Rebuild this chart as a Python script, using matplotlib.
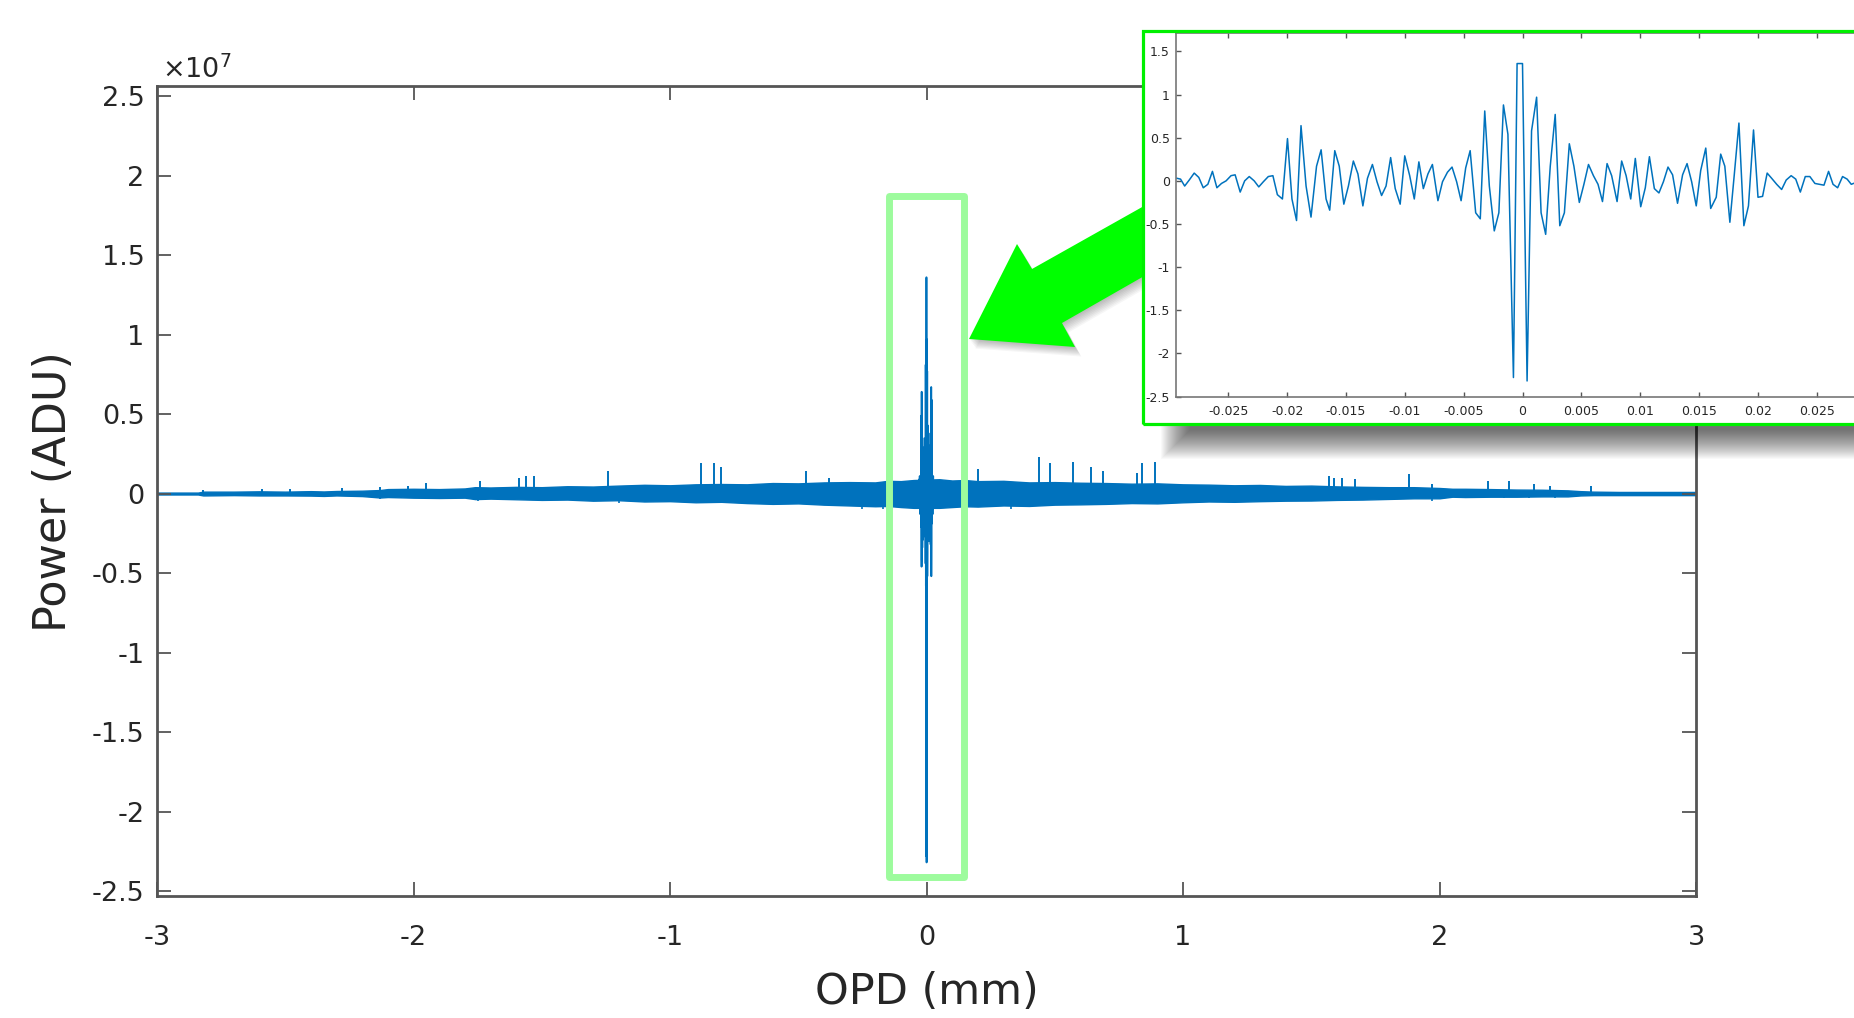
import numpy as np
import matplotlib.pyplot as plt
from matplotlib.patches import Polygon, Rectangle

plt.rcParams['font.family'] = ['DejaVu Sans']
plt.rcParams['axes.unicode_minus'] = False

W, H = 1854, 1018
BLUE = '#0072BD'
TXT = '#262626'
AX = '#555555'

# envelope of the dense interferogram trace, units of 1e7 ADU
env_x = [-3.0, -2.84, -2.82, -2.7, -2.6, -2.5, -2.4, -2.35, -2.3, -2.2, -2.13, -2.1,
         -2.0, -1.9, -1.8, -1.76, -1.7, -1.6, -1.5, -1.4, -1.3, -1.2, -1.1, -1.0,
         -0.9, -0.8, -0.7, -0.6, -0.5, -0.4, -0.3, -0.2, -0.15, -0.1, -0.05, 0.05,
         0.1, 0.15, 0.2, 0.3, 0.4, 0.5, 0.6, 0.7, 0.8, 0.9, 1.0, 1.1,
         1.2, 1.3, 1.4, 1.5, 1.6, 1.7, 1.8, 1.9, 2.0, 2.05, 2.1, 2.2,
         2.3, 2.4, 2.5, 2.55, 2.6, 2.7, 2.8, 3.0]
env_hi = [0.006, 0.006, 0.012, 0.012, 0.014, 0.012, 0.015, 0.013, 0.016, 0.018, 0.022, 0.028,
          0.030, 0.028, 0.032, 0.040, 0.038, 0.042, 0.040, 0.046, 0.044, 0.050, 0.055, 0.052,
          0.058, 0.060, 0.058, 0.066, 0.064, 0.070, 0.072, 0.070, 0.080, 0.078, 0.085, 0.090,
          0.082, 0.085, 0.078, 0.080, 0.070, 0.072, 0.068, 0.066, 0.062, 0.064, 0.058, 0.056,
          0.052, 0.054, 0.048, 0.050, 0.045, 0.042, 0.040, 0.040, 0.035, 0.030, 0.030, 0.028,
          0.025, 0.024, 0.020, 0.015, 0.012, 0.010, 0.010, 0.010]
env_lo = [-0.006, -0.006, -0.012, -0.010, -0.012, -0.012, -0.013, -0.015, -0.012, -0.016, -0.025, -0.022,
          -0.026, -0.028, -0.026, -0.035, -0.032, -0.036, -0.040, -0.038, -0.045, -0.042, -0.050, -0.048,
          -0.055, -0.052, -0.060, -0.065, -0.062, -0.070, -0.075, -0.080, -0.078, -0.085, -0.090, -0.090,
          -0.085, -0.080, -0.082, -0.075, -0.078, -0.070, -0.068, -0.065, -0.060, -0.062, -0.055, -0.050,
          -0.052, -0.048, -0.045, -0.044, -0.040, -0.038, -0.034, -0.030, -0.030, -0.020, -0.022, -0.020,
          -0.020, -0.018, -0.018, -0.012, -0.010, -0.010, -0.010, -0.010]

# isolated spikes sticking out of the trace
spike_x = [-2.82, -2.59, -2.48, -2.28, -2.13, -2.02, -1.95, -1.74, -1.59, -1.56, -1.53, -1.24,
           -0.88, -0.83, -0.80, -0.47, -0.38, 0.20, 0.44, 0.48, 0.57, 0.64, 0.69, 0.82, 0.84,
           0.89, 1.57, 1.59, 1.62, 1.67, 1.88, 1.97, 2.19, 2.27, 2.37, 2.43, 2.59]
spike_top = [0.02, 0.03, 0.03, 0.035, 0.04, 0.05, 0.065, 0.08, 0.10, 0.11, 0.11, 0.14,
             0.19, 0.19, 0.17, 0.14, 0.10, 0.155, 0.23, 0.19, 0.20, 0.17, 0.14, 0.13, 0.19,
             0.20, 0.11, 0.10, 0.10, 0.09, 0.12, 0.06, 0.08, 0.08, 0.06, 0.05, 0.05]

# short dips below the trace
dip_x = [-2.13, -2.05, -1.75, -1.2, -0.25, -0.17, 0.33, 1.97, 2.08, 2.15, 2.25, 2.35, 2.45]
dip_bot = [-0.035, -0.03, -0.045, -0.06, -0.10, -0.10, -0.10, -0.05, -0.03, -0.03, -0.03, -0.025, -0.025]

# burst around zero path difference (OPD in micrometres, power in 1e7 ADU)
zpd_x_um = [-29.38, -29.07, -28.72, -28.33, -27.91, -27.52, -27.14, -26.75, -26.36, -25.98,
            -25.59, -25.20, -24.78, -24.43, -24.00, -23.62, -23.23, -22.81, -22.42, -22.03,
            -21.61, -21.22, -20.84, -20.41, -19.98, -19.60, -19.21, -18.83, -18.40, -17.98,
            -17.51, -17.12, -16.70, -16.39, -15.96, -15.58, -15.19, -14.80, -14.38, -13.99,
            -13.57, -13.18, -12.76, -12.37, -11.98, -11.60, -11.21, -10.82, -10.40, -10.01,
            -9.59, -9.20, -8.81, -8.43, -8.04, -7.66, -7.19, -6.80, -6.38, -5.99,
            -5.60, -5.22, -4.83, -4.45, -3.98, -3.59, -3.21, -2.82, -2.40, -2.01,
            -1.62, -1.24, -0.77, -0.46, 0.00, 0.39, 0.77, 1.20, 1.58, 1.97,
            2.36, 2.78, 3.17, 3.56, 3.98, 4.37, 4.83, 5.22, 5.61, 6.03,
            6.42, 6.80, 7.19, 7.58, 8.04, 8.43, 8.81, 9.20, 9.59, 10.05,
            10.44, 10.79, 11.21, 11.60, 11.98, 12.37, 12.76, 13.18, 13.61, 13.99,
            14.38, 14.77, 15.15, 15.58, 16.00, 16.47, 16.85, 17.20, 17.63, 18.01,
            18.40, 18.82, 19.21, 19.64, 20.02, 20.41, 20.80, 21.18, 21.61, 22.03,
            22.42, 22.84, 23.23, 23.62, 24.04, 24.43, 24.86, 25.24, 25.63, 26.02,
            26.40, 26.79, 27.21, 27.60, 27.95, 28.33, 28.72, 29.10]
zpd_val = [0.03, 0.02, -0.06, 0.01, 0.09, 0.04, -0.08, -0.04, 0.11, -0.08,
           -0.03, 0.00, 0.06, 0.07, -0.13, 0.00, 0.05, 0.00, -0.07, -0.01,
           0.05, 0.06, -0.16, -0.21, 0.49, -0.21, -0.46, 0.64, -0.06, -0.42,
           0.17, 0.36, -0.21, -0.34, 0.35, 0.17, -0.27, -0.06, 0.23, 0.08,
           -0.29, 0.03, 0.19, -0.01, -0.17, -0.06, 0.27, -0.09, -0.27, 0.29,
           0.06, -0.21, 0.22, -0.09, 0.08, 0.19, -0.23, -0.01, 0.10, 0.16,
           -0.01, -0.23, 0.15, 0.35, -0.37, -0.44, 0.81, -0.06, -0.58, -0.37,
           0.88, 0.54, -2.28, 1.36, 1.36, -2.32, 0.58, 0.97, -0.37, -0.62,
           0.17, 0.77, -0.52, -0.37, 0.43, 0.17, -0.25, -0.04, 0.19, 0.06,
           -0.04, -0.24, 0.20, 0.06, -0.24, 0.23, 0.06, -0.21, 0.26, -0.30,
           -0.08, 0.28, -0.09, -0.14, -0.01, 0.16, 0.07, -0.26, 0.07, 0.20,
           -0.01, -0.29, 0.12, 0.38, -0.32, -0.19, 0.31, 0.17, -0.48, 0.08,
           0.67, -0.52, -0.29, 0.59, -0.19, -0.18, 0.09, 0.03, -0.04, -0.10,
           0.01, 0.06, 0.02, -0.13, 0.05, 0.05, -0.03, -0.04, -0.05, 0.11,
           -0.04, -0.08, 0.05, 0.02, -0.04, -0.02, 0.04, -0.03]

main_xticks = [-3, -2, -1, 0, 1, 2, 3]
main_yticks = [-2.5, -2, -1.5, -1, -0.5, 0, 0.5, 1, 1.5, 2, 2.5]
main_ylabels = ['-2.5', '-2', '-1.5', '-1', '-0.5', '0', '0.5', '1', '1.5', '2', '2.5']
inset_xticks = [-0.025, -0.02, -0.015, -0.01, -0.005, 0, 0.005, 0.01, 0.015, 0.02, 0.025]
inset_xlabels = ['-0.025', '-0.02', '-0.015', '-0.01', '-0.005', '0',
                 '0.005', '0.01', '0.015', '0.02', '0.025']
inset_yticks = [-2.5, -2, -1.5, -1, -0.5, 0, 0.5, 1, 1.5]
inset_ylabels = ['-2.5', '-2', '-1.5', '-1', '-0.5', '0', '0.5', '1', '1.5']


def fx(px):
    return px / W


def fy(py):
    return 1 - py / H


fig = plt.figure(figsize=(W / 100, H / 100), dpi=100)

# main interferogram
ax = fig.add_axes([fx(157), fy(896), (1696 - 157) / W, (896 - 86) / H])
ax.fill_between(env_x, env_lo, env_hi, color=BLUE, lw=1.0)
ax.vlines(spike_x, 0, spike_top, color=BLUE, lw=1.4)
ax.vlines(dip_x, dip_bot, 0, color=BLUE, lw=1.2)
ax.plot(np.array(zpd_x_um) / 1000, zpd_val, color=BLUE, lw=1.3)
ax.set_xlim(-3, 3)
ax.set_ylim(-2.531, 2.563)
ax.set_xticks(main_xticks)
ax.set_xticklabels([str(t) for t in main_xticks])
ax.set_yticks(main_yticks)
ax.set_yticklabels(main_ylabels)
ax.tick_params(direction='in', length=10, width=1.3, color=AX, labelcolor=TXT,
               labelsize=19.5, top=True, right=True)
ax.tick_params(axis='x', pad=21)
ax.tick_params(axis='y', pad=9)
for s in ax.spines.values():
    s.set_color(AX)
    s.set_linewidth(2)
ax.set_xlabel('OPD (mm)', fontsize=31, color=TXT)
ax.set_ylabel('Power (ADU)', fontsize=32, color=TXT)
ax.xaxis.set_label_coords(0.5, -0.093)
ax.yaxis.set_label_coords(-0.053, 0.499)
fig.text(fx(162), fy(78), r'$\times10^{7}$', fontsize=19.5, color=TXT, ha='left', va='baseline')

# highlight box around the burst
ax.add_patch(Rectangle((-0.146, -2.41), 0.292, 4.28, fill=False, ec='#9dfb9d', lw=5,
                       joinstyle='round', zorder=5, clip_on=False))

# soft drop shadow under the inset (top part hidden behind it)
for k in range(30):
    fig.add_artist(Rectangle((fx(1190 - k), fy(430 + k)), (720 + 2 * k) / W, (330 + k) / H,
                             transform=fig.transFigure, fc='black', ec='none', alpha=0.022, zorder=1))

# arrow pointing from the inset to the burst
arrow_px = [(969, 339), (1017, 244), (1032, 269), (1160, 197), (1160, 267), (1062, 323), (1075, 347)]
for k in range(1, 9):
    fig.add_artist(Polygon([(fx(x + 0.8 * k), fy(y + 1.2 * k)) for x, y in arrow_px], closed=True,
                           transform=fig.transFigure, fc='black', ec='none', alpha=0.035, zorder=2))
fig.add_artist(Polygon([(fx(x), fy(y)) for x, y in arrow_px], closed=True,
                       transform=fig.transFigure, fc='#00ff00', ec='none', zorder=2.5))

# white backing and zoomed inset
fig.add_artist(Rectangle((fx(1142), fy(424)), (W - 1142 + 20) / W, (424 - 31) / H,
                         transform=fig.transFigure, fc='white', ec='none', zorder=3))
axi = fig.add_axes([fx(1175.5), fy(396.5), (1869.5 - 1175.5) / W, (396.5 - 32.5) / H])
axi.set_zorder(4)
axi.plot(np.array(zpd_x_um) / 1000, zpd_val, color=BLUE, lw=1.1)
axi.set_xlim(-0.0295, 0.0295)
axi.set_ylim(-2.5, 1.72)
axi.set_xticks(inset_xticks)
axi.set_xticklabels(inset_xlabels)
axi.set_yticks(inset_yticks)
axi.set_yticklabels(inset_ylabels)
axi.tick_params(direction='in', length=3.5, width=1, color=AX, labelcolor=TXT,
                labelsize=9, top=True)
axi.tick_params(axis='x', pad=6)
axi.tick_params(axis='y', pad=4)
for s in axi.spines.values():
    s.set_color('#777777')
    s.set_linewidth(1.2)

fig.add_artist(Rectangle((fx(1143), fy(424)), (W - 1143 + 20) / W, (424 - 31) / H,
                         transform=fig.transFigure, fill=False, ec='#00f000', lw=2.3, zorder=6))

fig.savefig('out.png', dpi=100)
